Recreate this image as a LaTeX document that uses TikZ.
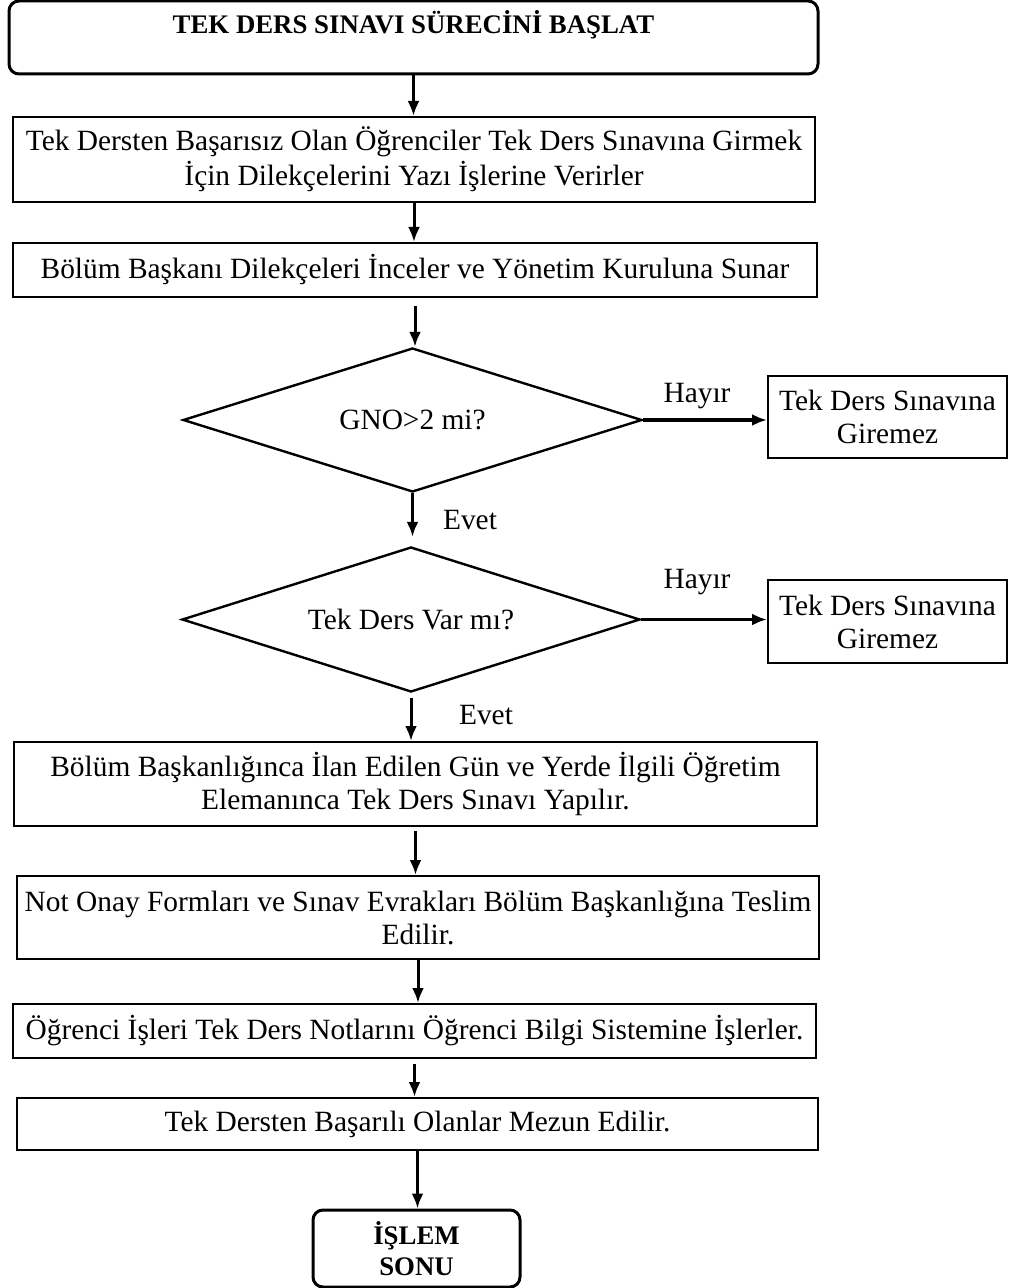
\documentclass[tikz,border=0pt]{standalone}
\usepackage{fontspec}
\setmainfont{Liberation Serif}
\usetikzlibrary{shapes.geometric,arrows.meta}
\begin{document}
\begin{tikzpicture}[x=0.5pt,y=-0.5pt,
  font=\fontsize{14.7}{16.5}\selectfont,
  terminal/.style={draw, line width=1.5pt, rounded corners=5pt, inner sep=0pt,
    align=center, font=\fontsize{13.4}{15.5}\selectfont\bfseries},
  procbox/.style={draw, line width=1pt, inner sep=0pt, align=center},
  decision/.style={draw, diamond, aspect=3.2, line width=1.2pt, inner sep=0pt},
  arr/.style={line width=1.5pt, -{Latex[length=7.5pt,width=6pt]}},
  tag/.style={inner sep=0pt}]
\useasboundingbox (0,0) rectangle (1011,1288);

% steps of the procedure
\node[terminal, minimum width=404.5pt, minimum height=36.5pt, text height=10pt, text depth=14pt]
  (start) at (413.5,37.5) {TEK DERS SINAVI SÜRECİNİ BAŞLAT};
\node[procbox, minimum width=401pt, minimum height=42.5pt, font=\fontsize{14.7}{17.5}\selectfont]
  (dilekce) at (414,159.5) {Tek Dersten Başarısız Olan Öğrenciler Tek Ders Sınavına Girmek\\İçin Dilekçelerini Yazı İşlerine Verirler};
\node[procbox, minimum width=402pt, minimum height=27pt]
  (inceler) at (415,270) {Bölüm Başkanı Dilekçeleri İnceler ve Yönetim Kuruluna Sunar};
\node[decision, minimum width=229.5pt, minimum height=72pt]
  (gno) at (412.5,420) {GNO>2 mi?};
\node[procbox, minimum width=119.5pt, minimum height=41pt]
  (ret1) at (887.5,417) {Tek Ders Sınavına\\Giremez};
\node[decision, minimum width=229pt, minimum height=72.5pt]
  (tekders) at (411,619.5) {Tek Ders Var mı?};
\node[procbox, minimum width=119.5pt, minimum height=41.5pt]
  (ret2) at (887.5,621.5) {Tek Ders Sınavına\\Giremez};
\node[procbox, minimum width=401.5pt, minimum height=42pt]
  (sinav) at (415.5,784) {Bölüm Başkanlığınca İlan Edilen Gün ve Yerde İlgili Öğretim\\Elemanınca Tek Ders Sınavı Yapılır.};
\node[procbox, minimum width=401pt, minimum height=41.5pt]
  (teslim) at (418,917.5) {Not Onay Formları ve Sınav Evrakları Bölüm Başkanlığına Teslim\\Edilir.};
\node[procbox, minimum width=401.5pt, minimum height=27pt]
  (obs) at (414.5,1031) {Öğrenci İşleri Tek Ders Notlarını Öğrenci Bilgi Sistemine İşlerler.};
\node[procbox, minimum width=400.5pt, minimum height=26pt]
  (mezun) at (417.5,1124) {Tek Dersten Başarılı Olanlar Mezun Edilir.};
\node[terminal, minimum width=103.5pt, minimum height=38.5pt]
  (son) at (416.5,1248.5) {İŞLEM\\SONU};

% connectors
\draw[arr] (start.south) -- (start.south |- dilekce.north);
\draw[arr] (dilekce.south) -- (dilekce.south |- inceler.north);
\draw[arr, shorten <=4pt] (inceler.south) -- (inceler.south |- gno.north);
\draw[arr] (gno.east) -- (ret1.west |- gno.east);
\draw[arr, shorten >=4.5pt] (gno.south) -- (gno.south |- tekders.north);
\draw[arr] (tekders.east) -- (ret2.west |- tekders.east);
\draw[arr, shorten <=2.5pt] (tekders.south) -- (tekders.south |- sinav.north);
\draw[arr, shorten <=2pt] (sinav.south) -- (sinav.south |- teslim.north);
\draw[arr] (teslim.south) -- (teslim.south |- obs.north);
\draw[arr, shorten <=2.5pt] (obs.south) -- (obs.south |- mezun.north);
\draw[arr] (mezun.south) -- (mezun.south |- son.north);

% branch labels
\node[tag] (h1) at (697,396) {Hayır};
\node[tag] (e1) at (470,520) {Evet};
\node[tag] (h2) at (697,582) {Hayır};
\node[tag] (e2) at (486,715) {Evet};
\end{tikzpicture}
\end{document}
